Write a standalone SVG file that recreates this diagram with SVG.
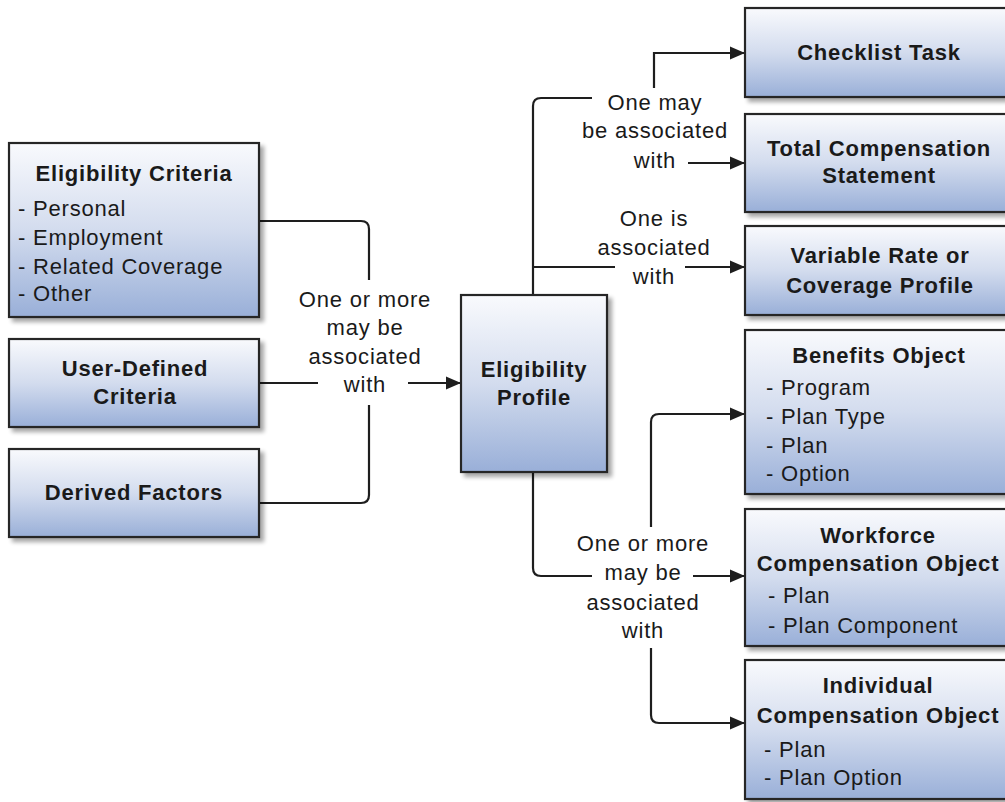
<svg xmlns="http://www.w3.org/2000/svg" width="1005" height="802" viewBox="0 0 1005 802">
<defs>
<linearGradient id="boxfill" x1="0" y1="0" x2="0" y2="1">
<stop offset="0" stop-color="#f9fafd"/>
<stop offset="0.5" stop-color="#d3dcee"/>
<stop offset="1" stop-color="#99afd8"/>
</linearGradient>
<filter id="shadow" x="-10%" y="-10%" width="130%" height="130%">
<feGaussianBlur in="SourceAlpha" stdDeviation="2"/>
<feOffset dx="4" dy="4" result="b"/>
<feComponentTransfer><feFuncA type="linear" slope="0.35"/></feComponentTransfer>
<feMerge><feMergeNode/><feMergeNode in="SourceGraphic"/></feMerge>
</filter>
<marker id="arrow" markerUnits="userSpaceOnUse" markerWidth="16" markerHeight="14" refX="15" refY="7" orient="auto">
<path d="M0,0.5 L15,7 L0,13.5 z" fill="#1e1e1e"/>
</marker>
</defs>
<style>
.box{fill:url(#boxfill);stroke:#262626;stroke-width:2.2;filter:url(#shadow)}
text{font-family:"Liberation Sans",Arial,sans-serif;font-size:22px;fill:#1a1a1a;letter-spacing:0.8px}
.b{font-weight:bold;text-anchor:middle}
.c{text-anchor:middle}
.line{fill:none;stroke:#1e1e1e;stroke-width:2.2}
.arr{fill:none;stroke:#1e1e1e;stroke-width:2.2;marker-end:url(#arrow)}
</style>
<rect width="1005" height="802" fill="#ffffff"/>

<g id="connectors">
<path class="line" d="M259,221 H361 Q369,221 369,229 V280"/>
<path class="line" d="M259,383 H318"/>
<path class="line" d="M259,503 H361 Q369,503 369,495 V405"/>
<path class="arr" d="M408,383 H461"/>
<path class="line" d="M533,295 V106 Q533,98 541,98 H592"/>
<path class="line" d="M533,267 H615"/>
<path class="arr" d="M685,267 H745"/>
<path class="arr" d="M654,88 V53 H745"/>
<path class="arr" d="M688,163 H745"/>
<path class="line" d="M533,472 V568 Q533,576 541,576 H592"/>
<path class="arr" d="M693,576 H745"/>
<path class="arr" d="M651,527 V422 Q651,414 659,414 H745"/>
<path class="arr" d="M651,648 V715 Q651,723 659,723 H745"/>
</g>

<g id="labels">
<text class="c" x="365" y="307">One or more</text>
<text class="c" x="365" y="335">may be</text>
<text class="c" x="365" y="364">associated</text>
<text class="c" x="365" y="392">with</text>
<text class="c" x="655" y="110">One may</text>
<text class="c" x="655" y="138">be associated</text>
<text class="c" x="655" y="168">with</text>
<text class="c" x="654" y="226">One is</text>
<text class="c" x="654" y="255">associated</text>
<text class="c" x="654" y="284">with</text>
<text class="c" x="643" y="551">One or more</text>
<text class="c" x="643" y="580">may be</text>
<text class="c" x="643" y="610">associated</text>
<text class="c" x="643" y="638">with</text>
</g>

<g id="eligibility-criteria">
<rect class="box" x="9" y="143" width="250" height="174"/>
<text class="b" x="134" y="181">Eligibility Criteria</text>
<text x="18" y="216">- Personal</text>
<text x="18" y="245">- Employment</text>
<text x="18" y="274">- Related Coverage</text>
<text x="18" y="301">- Other</text>
</g>

<g id="user-defined-criteria">
<rect class="box" x="9" y="339" width="250" height="88"/>
<text class="b" x="135" y="376">User-Defined</text>
<text class="b" x="135" y="404">Criteria</text>
</g>

<g id="derived-factors">
<rect class="box" x="9" y="449" width="250" height="88"/>
<text class="b" x="134" y="500">Derived Factors</text>
</g>

<g id="eligibility-profile">
<rect class="box" x="461" y="295" width="146" height="177"/>
<text class="b" x="534" y="377">Eligibility</text>
<text class="b" x="534" y="405">Profile</text>
</g>

<g id="checklist-task">
<rect class="box" x="745" y="8" width="272" height="89"/>
<text class="b" x="879" y="60">Checklist Task</text>
</g>

<g id="total-compensation-statement">
<rect class="box" x="745" y="114" width="272" height="98"/>
<text class="b" x="879" y="156">Total Compensation</text>
<text class="b" x="879" y="183">Statement</text>
</g>

<g id="variable-rate-profile">
<rect class="box" x="745" y="226" width="272" height="89"/>
<text class="b" x="880" y="263">Variable Rate or</text>
<text class="b" x="880" y="293">Coverage Profile</text>
</g>

<g id="benefits-object">
<rect class="box" x="745" y="330" width="272" height="164"/>
<text class="b" x="879" y="363">Benefits Object</text>
<text x="766" y="395">- Program</text>
<text x="766" y="424">- Plan Type</text>
<text x="766" y="453">- Plan</text>
<text x="766" y="481">- Option</text>
</g>

<g id="workforce-compensation-object">
<rect class="box" x="745" y="509" width="272" height="137"/>
<text class="b" x="878" y="543">Workforce</text>
<text class="b" x="878" y="571">Compensation Object</text>
<text x="768" y="603">- Plan</text>
<text x="768" y="633">- Plan Component</text>
</g>

<g id="individual-compensation-object">
<rect class="box" x="745" y="660" width="272" height="139"/>
<text class="b" x="878" y="693">Individual</text>
<text class="b" x="878" y="723">Compensation Object</text>
<text x="764" y="757">- Plan</text>
<text x="764" y="785">- Plan Option</text>
</g>
</svg>
